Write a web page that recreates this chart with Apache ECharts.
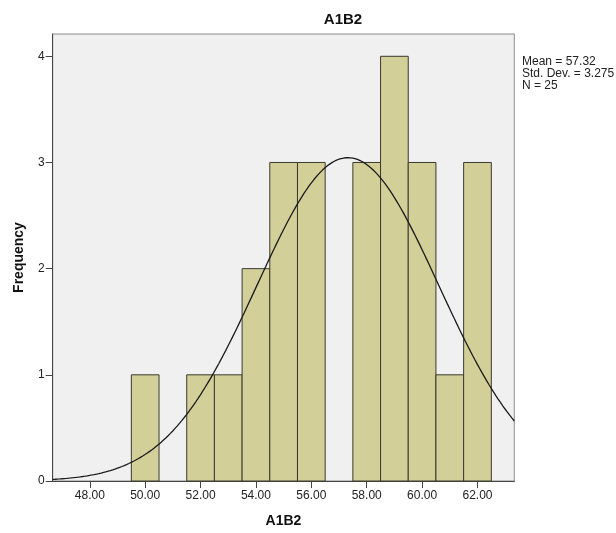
<!DOCTYPE html>
<html>
<head>
<meta charset="utf-8">
<script src="https://cdn.jsdelivr.net/npm/echarts@6/dist/echarts.min.js"></script>
<style>
  html, body { margin: 0; padding: 0; background: #fff; }
  #chart { width: 616px; height: 533px; }
</style>
</head>
<body>
<div id="chart"></div>
<script>
// Histogram of A1B2 scores, bins of width 1 centred on whole values
const binCenters = [50, 52, 53, 54, 55, 56, 58, 59, 60, 61, 62];
const frequencies = [1, 1, 1, 2, 3, 3, 3, 4, 3, 1, 3];
const xTickValues = [48, 50, 52, 54, 56, 58, 60, 62];
const yTickValues = [0, 1, 2, 3, 4];

// Summary statistics shown beside the plot
const mean = 57.32;
const stdDev = 3.275;
const n = 25;
const binWidth = 1;

const xMin = 46.66, xMax = 63.33;

// Fitted normal curve, scaled to counts (N * bin width)
const curve = [];
const steps = 200;
for (let i = 0; i <= steps; i++) {
  const x = xMin + (xMax - xMin) * i / steps;
  const z = (x - mean) / stdDev;
  const y = n * binWidth * Math.exp(-0.5 * z * z) / (stdDev * Math.sqrt(2 * Math.PI));
  curve.push([x, y]);
}

const FONT = '"Liberation Sans", Arial, sans-serif';
const chart = echarts.init(document.getElementById('chart'), null, { renderer: 'canvas' });

chart.setOption({
  animation: false,
  backgroundColor: '#ffffff',
  textStyle: { fontFamily: FONT },
  title: {
    text: 'A1B2',
    left: 338,
    textAlign: 'center',
    top: 7,
    textStyle: { fontFamily: FONT, fontSize: 15, fontWeight: 'bold', color: '#111' }
  },
  grid: {
    left: 52.7, right: 101.7, top: 34, bottom: 49.3,
    show: true,
    backgroundColor: '#f0f0f0',
    borderColor: '#8c8c8c',
    borderWidth: 1
  },
  xAxis: {
    type: 'value',
    min: xMin,
    max: xMax,
    name: 'A1B2',
    nameLocation: 'middle',
    nameGap: 33,
    nameTextStyle: { fontFamily: FONT, fontSize: 14, fontWeight: 'bold', color: '#111' },
    axisLine: { show: true, lineStyle: { color: '#444', width: 1 } },
    axisTick: { show: true, length: 7, customValues: xTickValues, lineStyle: { color: '#444' } },
    axisLabel: {
      customValues: xTickValues,
      margin: 9,
      fontFamily: FONT, fontSize: 12, color: '#222',
      formatter: v => v.toFixed(2)
    },
    splitLine: { show: false }
  },
  yAxis: {
    type: 'value',
    min: 0,
    max: 4.21,
    interval: 1,
    name: 'Frequency',
    nameLocation: 'middle',
    nameGap: 27,
    nameTextStyle: { fontFamily: FONT, fontSize: 14, fontWeight: 'bold', color: '#111' },
    axisLine: { show: true, lineStyle: { color: '#444', width: 1 } },
    axisTick: { show: true, length: 7, customValues: yTickValues, lineStyle: { color: '#444' } },
    axisLabel: {
      customValues: yTickValues,
      margin: 8,
      fontFamily: FONT, fontSize: 12, color: '#222'
    },
    splitLine: { show: false }
  },
  series: [
    {
      type: 'custom',
      data: binCenters.map((c, i) => [c, frequencies[i]]),
      encode: { x: 0, y: 1 },
      renderItem: function (params, api) {
        const c = api.value(0);
        const f = api.value(1);
        const p0 = api.coord([c - binWidth / 2, 0]);
        const p1 = api.coord([c + binWidth / 2, f]);
        return {
          type: 'rect',
          shape: { x: p0[0], y: p1[1], width: p1[0] - p0[0], height: p0[1] - p1[1] },
          style: { fill: '#d3cf98', stroke: '#3a3a30', lineWidth: 1 }
        };
      },
      z: 2
    },
    {
      type: 'line',
      data: curve,
      showSymbol: false,
      smooth: false,
      lineStyle: { color: '#1a1a1a', width: 1.3 },
      z: 3
    }
  ],
  graphic: [
    {
      type: 'text',
      left: 522,
      top: 56,
      style: {
        text: 'Mean = ' + mean.toFixed(2) + '\nStd. Dev. = ' + stdDev.toFixed(3) + '\nN = ' + n,
        font: '12px ' + FONT,
        fill: '#222',
        lineHeight: 12
      }
    }
  ]
});
</script>
</body>
</html>
